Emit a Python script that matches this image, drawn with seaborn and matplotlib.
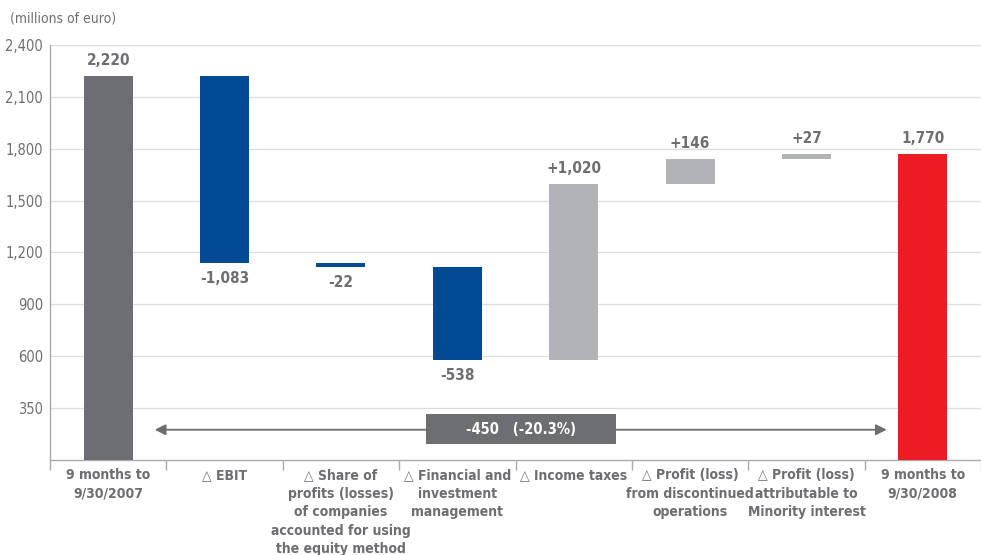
import matplotlib
matplotlib.use("Agg")
import matplotlib.pyplot as plt
import seaborn as sns
import pandas as pd

# data
categories = ["9 months to\n9/30/2007", "\u25b3 EBIT",
              "\u25b3 Share of\nprofits (losses)\nof companies\naccounted for using\nthe equity method",
              "\u25b3 Financial and\ninvestment\nmanagement", "\u25b3 Income taxes",
              "\u25b3 Profit (loss)\nfrom discontinued\noperations",
              "\u25b3 Profit (loss)\nattributable to\nMinority interest",
              "9 months to\n9/30/2008"]
changes = [2220, -1083, -22, -538, 1020, 146, 27, 1770]
value_labels = ["2,220", "-1,083", "-22", "-538", "+1,020", "+146", "+27", "1,770"]
kinds = ["total", "delta", "delta", "delta", "delta", "delta", "delta", "total"]
bar_colors = ["#6d6e71", "#004a93", "#004a93", "#004a93", "#b1b3b6", "#b1b3b6", "#b1b3b6", "#ed1c24"]
ytick_vals = [300, 600, 900, 1200, 1500, 1800, 2100, 2400]
ytick_labels = ["350", "600", "900", "1,200", "1,500", "1,800", "2,100", "2,400"]
summary_text = "-450   (-20.3%)"

# waterfall bottoms / heights
bottoms, heights = [], []
running = 0
for c, k in zip(changes, kinds):
    if k == "total":
        bottoms.append(0)
        heights.append(c)
        running = c
    else:
        lo = min(running, running + c)
        bottoms.append(lo)
        heights.append(abs(c))
        running += c

df = pd.DataFrame({"cat": categories, "height": heights})

sns.set_style("white")
plt.rcParams["font.family"] = ["DejaVu Sans"]
plt.rcParams["font.stretch"] = "condensed"
txt = "#6d6e71"

fig = plt.figure(figsize=(9.81, 5.55), dpi=100)
ax = fig.add_axes([50 / 981, 95 / 555, 931 / 981, 415 / 555])

sns.barplot(data=df, x="cat", y="height", bottom=bottoms, width=0.42,
            color="#6d6e71", saturation=1, ax=ax, zorder=3)
for p, col in zip(ax.patches, bar_colors):
    p.set_facecolor(col)
    p.set_edgecolor("none")

ax.set_xlim(-0.5, 7.5)
ax.set_ylim(0, 2400)
ax.set_yticks(ytick_vals)
ax.set_yticklabels(ytick_labels)
ax.grid(axis="y", color="#dcdcdc", lw=0.9, zorder=0)
ax.set_xlabel("")
ax.set_ylabel("")
ax.set_xticks(range(len(categories)))
ax.set_xticklabels(categories, fontsize=10, fontweight="bold", color=txt, linespacing=1.4)
ax.set_xticks([i - 0.5 for i in range(len(categories) + 1)], minor=True)
ax.tick_params(axis="x", which="major", bottom=False, length=0, pad=6)
ax.tick_params(axis="x", which="minor", bottom=True, length=7, width=1,
               color="#aaaaaa", direction="out")
ax.tick_params(axis="y", length=0, labelsize=10.5, labelcolor=txt, pad=5)
for s in ["top", "right"]:
    ax.spines[s].set_visible(False)
for s in ["left", "bottom"]:
    ax.spines[s].set_color("#aaaaaa")
    ax.spines[s].set_linewidth(1)

# value labels
for i, (b, h, c, k, lab) in enumerate(zip(bottoms, heights, changes, kinds, value_labels)):
    if c >= 0:
        ax.text(i, b + h + 45, lab, ha="center", va="bottom", fontsize=11,
                fontweight="bold", color=txt)
    else:
        ax.text(i, b - 45, lab, ha="center", va="top", fontsize=11,
                fontweight="bold", color=txt)

# summary arrow and box
ax.annotate("", xy=(6.69, 175), xytext=(0.40, 175),
            arrowprops=dict(arrowstyle="<|-|>", color="#6d6e71", lw=1.3,
                            mutation_scale=16, shrinkA=0, shrinkB=0), zorder=4)
box = plt.Rectangle((2.73, 92), 1.63, 174, fc="#6d6e71", ec="none", zorder=4)
ax.add_patch(box)
ax.text(3.55, 179, summary_text, ha="center", va="center", fontsize=10.5,
        fontweight="bold", color="white", zorder=5)

fig.text(10 / 981, 1 - 18 / 555, "(millions of euro)", fontsize=10, color=txt,
         ha="left", va="center")

fig.savefig("out.png", dpi=100)
